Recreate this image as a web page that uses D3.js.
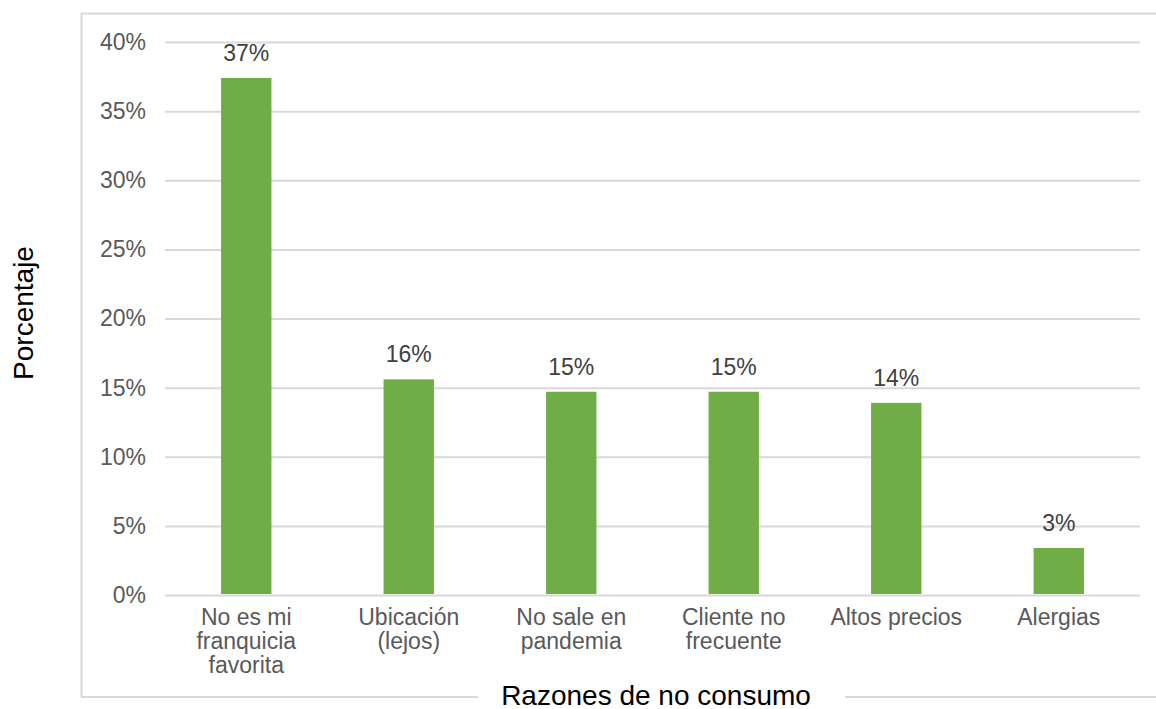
<!DOCTYPE html>
<html><head><meta charset="utf-8">
<script src="https://cdn.jsdelivr.net/npm/d3@7"></script>
<style>body{margin:0;background:#fff;} text{font-family:"Liberation Sans",Arial,Helvetica,sans-serif;}</style>
</head><body>
<svg id="c" width="1156" height="709"></svg>
<script>
const categories = [["No es mi","franquicia","favorita"],["Ubicación","(lejos)"],["No sale en","pandemia"],["Cliente no","frecuente"],["Altos precios"],["Alergias"]];
const values = [0.374, 0.156, 0.147, 0.147, 0.139, 0.034];
const labels = ["37%","16%","15%","15%","14%","3%"];
const yTicks = [0,0.05,0.10,0.15,0.20,0.25,0.30,0.35,0.40];

(function(){
const svg = d3.select("#c");
const pL=165, pR=1140, pT=42, pB=595;
const fs = "23px";
const x = d3.scaleBand().domain(d3.range(categories.length)).range([pL,pR]).paddingInner(0.69).paddingOuter(0.345);
const y = d3.scaleLinear().domain([0,0.4]).range([pB,pT]);

// outer box
const bx0=81, by0=13, bx1=1157, by1=697;
const bc="#d9d9d9";
svg.append("path").attr("d",`M${bx0+0.5},${by1} L${bx0+0.5},${by0+0.5} L${bx1},${by0+0.5}`).attr("fill","none").attr("stroke",bc).attr("stroke-width",2);
svg.append("line").attr("x1",bx0).attr("x2",478).attr("y1",by1).attr("y2",by1).attr("stroke",bc).attr("stroke-width",2);
svg.append("line").attr("x1",845).attr("x2",bx1).attr("y1",by1).attr("y2",by1).attr("stroke",bc).attr("stroke-width",2);

// gridlines
const ax = d3.axisLeft(y).tickValues(yTicks).tickSize(-(pR-pL)).tickFormat(d=>Math.round(d*100)+"%");
const g = svg.append("g").attr("transform",`translate(${pL},0)`).call(ax);
g.select(".domain").remove();
g.selectAll(".tick line").attr("stroke","#d9d9d9").attr("stroke-width",2);
g.selectAll(".tick text").attr("x",-19).attr("fill","#595959").style("font-size",fs);

// bars
svg.selectAll("rect.bar").data(values).enter().append("rect").attr("class","bar")
  .attr("x",(d,i)=>x(i)).attr("width",x.bandwidth())
  .attr("y",d=>y(d)).attr("height",d=>pB-1-y(d)).attr("fill","#70ad47");

// data labels
svg.selectAll("text.lbl").data(values).enter().append("text").attr("class","lbl")
  .attr("x",(d,i)=>x(i)+x.bandwidth()/2).attr("y",d=>y(d)-17)
  .attr("text-anchor","middle").attr("fill","#404040").style("font-size",fs).text((d,i)=>labels[i]);

// category labels
const cg = svg.selectAll("text.cat").data(categories).enter().append("text").attr("class","cat")
  .attr("text-anchor","middle").attr("fill","#595959").style("font-size",fs);
cg.each(function(lines,i){
  const t=d3.select(this);
  lines.forEach((l,j)=>t.append("tspan").attr("x",x(i)+x.bandwidth()/2).attr("y",625+j*24).text(l));
});

// axis titles
svg.append("text").attr("x",656).attr("y",705).attr("text-anchor","middle").attr("fill","#000").style("font-size","28px").text("Razones de no consumo");
svg.append("text").attr("transform","translate(33,313) rotate(-90)").attr("text-anchor","middle").attr("fill","#000").style("font-size","28px").text("Porcentaje");
})();
</script>
</body></html>
